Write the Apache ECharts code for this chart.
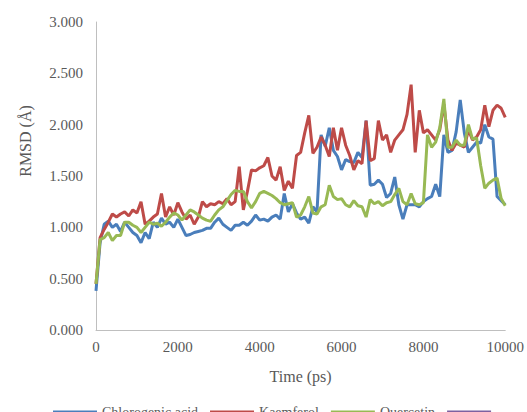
<!DOCTYPE html>
<html>
<head>
<meta charset="utf-8">
<script src="https://cdn.jsdelivr.net/npm/echarts@6/dist/echarts.min.js"></script>
<style>
  html, body { margin: 0; padding: 0; background: #fff; }
  #chart { width: 527px; height: 412px; }
</style>
</head>
<body>
<div id="chart"></div>
<script>
// RMSD (Å) sampled every 100 ps, 0..10000 ps
const chlorogenic = [
  0.38, 0.85, 1.03, 1.06, 1.00, 1.03, 0.96, 1.05, 1.00, 0.95,
  0.92, 0.85, 0.95, 0.89, 1.05, 1.00, 1.09, 1.03, 1.05, 1.00,
  1.08, 1.00, 0.92, 0.93, 0.95, 0.96, 0.97, 0.99, 0.99, 1.05,
  1.09, 1.03, 1.00, 0.97, 1.02, 1.02, 1.05, 1.02, 1.06, 1.12,
  1.07, 1.08, 1.06, 1.10, 1.12, 1.08, 1.33, 1.15, 1.23, 1.14,
  1.08, 1.10, 1.04, 1.20, 1.15, 1.90, 1.79, 1.97, 1.75, 1.69,
  1.56, 1.66, 1.64, 1.63, 1.73, 1.68, 2.04, 1.41, 1.42, 1.46,
  1.42, 1.29, 1.33, 1.49, 1.22, 1.08, 1.22, 1.22, 1.22, 1.20,
  1.25, 1.28, 1.30, 1.42, 1.30, 1.90, 1.73, 1.75, 1.93, 2.24,
  1.92, 1.73, 1.78, 1.83, 1.82, 2.00, 1.88, 1.86, 1.30, 1.26,
  1.22
]
const kaemferol = [
  0.45, 0.90, 0.98, 1.05, 1.13, 1.10, 1.13, 1.15, 1.11, 1.17,
  1.14, 1.25, 1.03, 1.06, 1.10, 1.13, 1.33, 1.10, 1.20, 1.12,
  1.24, 1.15, 1.08, 1.12, 1.03, 1.10, 1.25, 1.20, 1.23, 1.22,
  1.25, 1.23, 1.28, 1.22, 1.25, 1.59, 1.17, 1.35, 1.56, 1.55,
  1.58, 1.60, 1.68, 1.50, 1.46, 1.59, 1.36, 1.45, 1.38, 1.70,
  1.73, 1.92, 2.09, 1.72, 1.78, 1.88, 1.80, 1.69, 1.97, 1.75,
  1.97, 1.80, 1.70, 1.56, 1.65, 1.62, 2.04, 1.65, 1.67, 2.04,
  1.85, 1.90, 1.73, 1.85, 1.90, 1.95, 2.10, 2.39, 1.73, 2.14,
  1.92, 1.95, 1.90, 1.85, 1.95, 2.20, 1.85, 1.75, 1.82, 1.80,
  1.78, 1.95, 1.85, 1.88, 1.95, 2.19, 1.98, 2.14, 2.19, 2.16,
  2.07
]
const quercetin = [
  0.45, 0.88, 0.90, 0.95, 0.87, 0.92, 0.92, 1.05, 1.05, 1.02,
  1.00, 0.95, 1.00, 1.05, 1.03, 1.04, 1.01, 1.05, 1.10, 1.14,
  1.12, 1.07, 1.12, 1.17, 1.15, 1.12, 1.09, 1.07, 1.06, 1.12,
  1.17, 1.20, 1.26, 1.32, 1.36, 1.35, 1.35, 1.25, 1.19, 1.25,
  1.33, 1.35, 1.33, 1.31, 1.28, 1.24, 1.22, 1.23, 1.24, 1.10,
  1.12, 1.20, 1.30, 1.14, 1.13, 1.20, 1.22, 1.41, 1.30, 1.27,
  1.28, 1.22, 1.20, 1.26, 1.21, 1.20, 1.10, 1.27, 1.23, 1.25,
  1.21, 1.24, 1.25, 1.32, 1.38, 1.25, 1.22, 1.33, 1.23, 1.22,
  1.24, 1.90, 1.78, 1.83, 1.97, 2.25, 1.78, 1.78, 1.85, 1.80,
  1.80, 2.00, 1.86, 1.87, 1.60, 1.38, 1.43, 1.46, 1.48, 1.28,
  1.21
]
const seriesNames = ['Chlorogenic acid', 'Kaemferol', 'Quercetin', ' ']
const seriesColors = ['#4A7EBB', '#BE4B48', '#98B954', '#7D60A0']
const timeStep = 100

const chart = echarts.init(document.getElementById('chart'), null, { renderer: 'svg' })

const toPairs = (arr) => arr.map((v, i) => [i * timeStep, v])
const seriesData = [toPairs(chlorogenic), toPairs(kaemferol), toPairs(quercetin), []]

const font = 'Liberation Serif'
const gray = '#595959'

const option = {
  animation: false,
  color: seriesColors,
  grid: { left: 96, right: 21, top: 22, bottom: 82 },
  legend: {
    left: 48,
    top: 400,
    icon: 'rect',
    itemWidth: 44,
    itemHeight: 3,
    itemGap: 12,
    data: seriesNames,
    textStyle: { fontFamily: font, fontSize: 14, color: gray },
  },
  xAxis: {
    type: 'value',
    min: 0,
    max: 10000,
    interval: 2000,
    name: 'Time (ps)',
    nameLocation: 'middle',
    nameGap: 38,
    nameTextStyle: { fontFamily: font, fontSize: 16, color: gray },
    axisLine: { show: true, lineStyle: { color: '#BFBFBF', width: 1 } },
    axisTick: { show: false },
    splitLine: { show: false },
    axisLabel: {
      margin: 9,
      fontFamily: font,
      fontSize: 15,
      color: gray,
      formatter: (v) => String(v),
    },
  },
  yAxis: {
    type: 'value',
    min: 0,
    max: 3,
    interval: 0.5,
    axisLine: { show: true, lineStyle: { color: '#BFBFBF', width: 1 } },
    axisTick: { show: false },
    splitLine: { show: false },
    axisLabel: {
      margin: 13,
      fontFamily: font,
      fontSize: 15,
      color: gray,
      formatter: (v) => v.toFixed(3),
    },
  },
  graphic: [
    {
      type: 'text',
      x: 25,
      y: 141,
      rotation: Math.PI / 2,
      style: {
        text: 'RMSD (Å)',
        fontFamily: font,
        fontSize: 16,
        fill: gray,
        align: 'center',
        verticalAlign: 'middle',
      },
    },
  ],
  series: seriesNames.map((name, i) => ({
    name,
    type: 'line',
    data: seriesData[i],
    showSymbol: false,
    symbol: 'none',
    lineStyle: { width: 3, color: seriesColors[i] },
    itemStyle: { color: seriesColors[i] },
  })),
}

chart.setOption(option)
</script>
</body>
</html>
